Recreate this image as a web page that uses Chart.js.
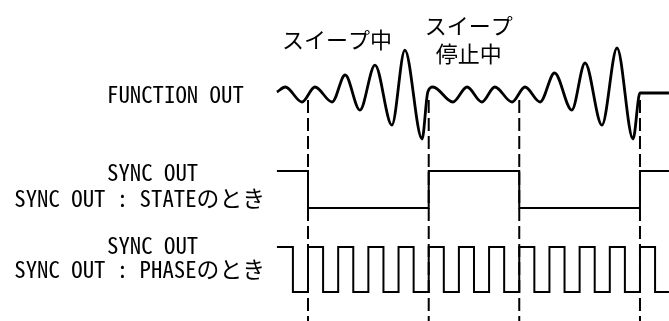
<!DOCTYPE html>
<html>
<head>
<meta charset="utf-8">
<script src="https://cdn.jsdelivr.net/npm/chart.js@4.4.1/dist/chart.umd.min.js"></script>
<style>
  html, body { margin: 0; padding: 0; background: #fff; }
  #wrap { width: 669px; height: 321px; position: relative; }
</style>
</head>
<body>
<div id="wrap"><canvas id="timing"></canvas></div>
<script>
// time in output periods, 0 = start of the first sweep
const FUNC_T = [-1.03, -0.75, -0.2, 0.23, 0.8, 1.23, 1.72, 2.22, 2.78, 3.21, 3.78, 3.97, 4.14,
                4.8, 5.27, 5.76, 6.19, 6.76, 7.19, 7.69, 8.17, 8.74, 9.18, 9.74, 10.24, 10.77, 11.0, 11.96];
// amplitude, 1 = stopped-sweep level
const FUNC_V = [0.33, 1, -1, 1, -1, 2.6, -2.07, 3.93, -4.07, 5.93, -5.93, 0.33, 1,
                -1, 1, -1, 1, -1, 1, -1, 2.87, -2.07, 4.2, -4.07, 6.2, -5.93, 0.2, 0.2];

const STATE_T = [-1.03, 0, 4, 7, 11, 11.96];
const STATE_V = [1, 0, 1, 0, 1, 1];

const PHASE_T = [-1.03, -0.5, 0, 0.5, 1, 1.5, 2, 2.5, 3, 3.5, 4, 4.5, 5, 5.5, 6, 6.5,
                 7, 7.5, 8, 8.5, 9, 9.5, 10, 10.5, 11, 11.5, 11.96];
const PHASE_V = [1, 0, 1, 0, 1, 0, 1, 0, 1, 0, 1, 0, 1, 0, 1, 0,
                 1, 0, 1, 0, 1, 0, 1, 0, 1, 0, 0];

const MARK_T = [0, 4, 7, 11];

const ROW_LABELS = [
  ['FUNCTION OUT'],
  ['SYNC OUT', 'SYNC OUT : STATEのとき'],
  ['SYNC OUT', 'SYNC OUT : PHASEのとき']
];
const SWEEP_LABELS = [['スイープ中'], ['スイープ', '停止中']];

// layout
const PX_PER_T = 30.18, T0_PX = 308, W = 669, H = 321;
const FUNC_MID = 94.5, FUNC_GAIN = 7.5;
const STATE_HI = 171, STATE_LO = 208;
const PHASE_HI = 247, PHASE_LO = 292;
const MARK_TOP = 100, MARK_BOTTOM = 321;
const LABEL_LEFT = 107, LABEL_RIGHT = 265;
const LABEL_Y = [[94], [172, 198], [245, 269]];
const SWEEP_T = [0.96, 5.33];
const SWEEP_Y = [[40], [26, 54]];
const LABEL_FONT = '22.8px "Noto Sans Mono CJK JP", "DejaVu Sans Mono", monospace';
const TITLE_FONT = '22px "Noto Sans CJK JP", sans-serif';

const pts = (ts, vs, f) => ts.map((t, i) => ({ x: t, y: f(vs[i]) }));

const datasets = [
  {
    data: pts(FUNC_T, FUNC_V, v => FUNC_MID - v * FUNC_GAIN),
    borderColor: '#000', borderWidth: 2.8,
    cubicInterpolationMode: 'monotone'
  },
  {
    data: pts(STATE_T, STATE_V, v => v ? STATE_HI : STATE_LO),
    borderColor: '#000', borderWidth: 2, stepped: true, borderJoinStyle: 'miter'
  },
  {
    data: pts(PHASE_T, PHASE_V, v => v ? PHASE_HI : PHASE_LO),
    borderColor: '#000', borderWidth: 2, stepped: true, borderJoinStyle: 'miter'
  }
];
MARK_T.forEach(t => datasets.push({
  data: [{ x: t, y: MARK_TOP }, { x: t, y: MARK_BOTTOM }],
  borderColor: '#000', borderWidth: 2, borderDash: [13, 5]
}));

const textPlugin = {
  id: 'timingText',
  afterDatasetsDraw(chart) {
    const { ctx, scales: { x, y } } = chart;
    ctx.save();
    ctx.fillStyle = '#000';
    ctx.textBaseline = 'middle';
    ctx.font = LABEL_FONT;
    ROW_LABELS.forEach((lines, i) => {
      ctx.textAlign = 'left';
      ctx.fillText(lines[0], LABEL_LEFT, y.getPixelForValue(LABEL_Y[i][0]));
      if (lines[1]) {
        ctx.textAlign = 'right';
        ctx.fillText(lines[1], LABEL_RIGHT, y.getPixelForValue(LABEL_Y[i][1]));
      }
    });
    ctx.font = TITLE_FONT;
    ctx.textAlign = 'center';
    SWEEP_LABELS.forEach((lines, i) => {
      lines.forEach((s, j) => ctx.fillText(s, x.getPixelForValue(SWEEP_T[i]), y.getPixelForValue(SWEEP_Y[i][j])));
    });
    ctx.restore();
  }
};

new Chart(document.getElementById('timing'), {
  type: 'line',
  data: { datasets },
  options: {
    responsive: true,
    maintainAspectRatio: false,
    animation: false,
    layout: { padding: 0 },
    elements: { point: { radius: 0 }, line: { tension: 0 } },
    plugins: { legend: { display: false }, tooltip: { enabled: false } },
    scales: {
      x: { type: 'linear', display: false, min: -T0_PX / PX_PER_T, max: (W - T0_PX) / PX_PER_T },
      y: { type: 'linear', display: false, min: 0, max: H, reverse: true }
    }
  },
  plugins: [textPlugin]
});
</script>
</body>
</html>
